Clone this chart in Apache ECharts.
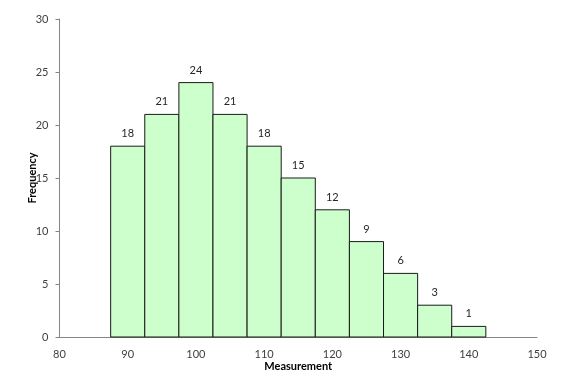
<!DOCTYPE html>
<html><head><meta charset="utf-8">
<script src="https://cdn.jsdelivr.net/npm/echarts@6/dist/echarts.min.js"></script>
<style>html,body{margin:0;padding:0;background:#fff}#c{width:578px;height:383px}</style>
</head><body><div id="c"></div>
<script>
var binCenters = [90, 95, 100, 105, 110, 115, 120, 125, 130, 135, 140];
var frequencies = [18, 21, 24, 21, 18, 15, 12, 9, 6, 3, 1];
var xTicks = [80, 90, 100, 110, 120, 130, 140, 150];
var yTicks = [0, 5, 10, 15, 20, 25, 30];
var binWidth = 5;
var FONT = 'Lato, "Open Sans", sans-serif';
var data = binCenters.map(function (c, i) { return [c, frequencies[i]]; });
var chart = echarts.init(document.getElementById('c'), null, {renderer: 'canvas'});
chart.setOption({
  animation: false,
  grid: {left: 59.5, right: 41, top: 19, bottom: 46},
  xAxis: {
    type: 'value', min: xTicks[0], max: xTicks[xTicks.length - 1], interval: 10,
    name: 'Measurement', nameLocation: 'middle', nameGap: 24, nameMoveOverlap: false,
    nameTextStyle: {fontFamily: FONT, fontWeight: 'bold', fontSize: 11, color: '#000'},
    axisLine: {lineStyle: {color: '#868686', width: 1}},
    axisTick: {show: false},
    splitLine: {show: false},
    axisLabel: {fontFamily: FONT, fontSize: 11, color: '#404040', margin: 12}
  },
  yAxis: {
    type: 'value', min: yTicks[0], max: yTicks[yTicks.length - 1], interval: 5,
    name: 'Frequency', nameLocation: 'middle', nameGap: 22, nameMoveOverlap: false,
    nameTextStyle: {fontFamily: FONT, fontWeight: 'bold', fontSize: 11, color: '#000'},
    axisLine: {show: true, lineStyle: {color: '#868686', width: 1}},
    axisTick: {show: true, length: 4, lineStyle: {color: '#868686'}},
    splitLine: {show: false},
    axisLabel: {fontFamily: FONT, fontSize: 11, color: '#404040', margin: 11}
  },
  series: [{
    type: 'custom',
    data: data,
    renderItem: function (params, api) {
      var c = api.value(0), v = api.value(1);
      var p0 = api.coord([c - binWidth / 2, v]);
      var p1 = api.coord([c + binWidth / 2, 0]);
      return {
        type: 'group',
        children: [{
          type: 'rect',
          shape: {x: p0[0], y: p0[1], width: p1[0] - p0[0], height: p1[1] - p0[1]},
          style: {fill: '#CCFFCC', stroke: '#1a1a1a', lineWidth: 1}
        }, {
          type: 'text',
          style: {
            x: (p0[0] + p1[0]) / 2, y: p0[1] - 7, text: String(v),
            textAlign: 'center', textVerticalAlign: 'bottom',
            font: '11px ' + FONT, fill: '#262626'
          }
        }]
      };
    }
  }]
});
</script></body></html>
